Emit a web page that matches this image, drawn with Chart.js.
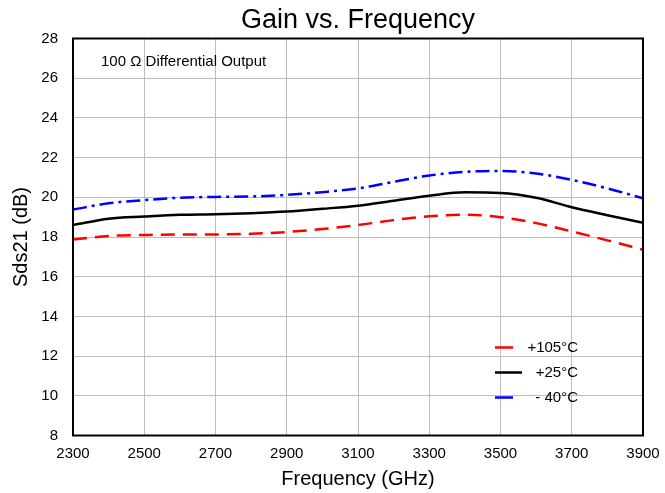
<!DOCTYPE html>
<html>
<head>
<meta charset="utf-8">
<script src="https://cdn.jsdelivr.net/npm/chart.js@4"></script>
<style>
  html, body { margin: 0; padding: 0; background: #fff; }
  #wrap { width: 665px; height: 493px; }
</style>
</head>
<body>
<div id="wrap"><canvas id="gainChart"></canvas></div>
<script>
const freqs = [2300, 2400, 2500, 2600, 2700, 2800, 2900, 3000, 3100, 3200, 3300, 3400, 3500, 3600, 3700, 3800, 3900];
const gainHot = [17.87, 18.05, 18.1, 18.13, 18.13, 18.16, 18.25, 18.4, 18.6, 18.85, 19.04, 19.12, 19.0, 18.7, 18.28, 17.83, 17.36];
const gainRoom = [18.6, 18.92, 19.03, 19.12, 19.15, 19.2, 19.28, 19.42, 19.58, 19.83, 20.08, 20.25, 20.22, 19.98, 19.5, 19.1, 18.72];
const gainCold = [19.38, 19.7, 19.86, 19.98, 20.02, 20.04, 20.12, 20.26, 20.45, 20.78, 21.1, 21.28, 21.33, 21.2, 20.88, 20.45, 19.95];
const seriesLabels = ['+105°C', '+25°C', '- 40°C'];
const xTicks = [2300, 2500, 2700, 2900, 3100, 3300, 3500, 3700, 3900];
const noteText = '100 Ω Differential Output';

const FONT = "'Liberation Sans', Arial, sans-serif";
const toPts = (ys) => freqs.map((f, i) => ({ x: f, y: ys[i] }));

// black frame around the plot area + the note in the top-left corner
const frameAndNote = {
  id: 'frameAndNote',
  afterDatasetsDraw(chart) {
    const { ctx, chartArea: a } = chart;
    ctx.save();
    ctx.strokeStyle = '#000';
    ctx.lineWidth = 2;
    ctx.strokeRect(a.left, a.top, a.right - a.left, a.bottom - a.top);
    ctx.fillStyle = '#000';
    ctx.font = '15px ' + FONT;
    ctx.textBaseline = 'middle';
    ctx.fillText(noteText, a.left + 28, a.top + 23);
    ctx.restore();
  }
};

// legend drawn inside the plot, lower right
const insideLegend = {
  id: 'insideLegend',
  afterDraw(chart) {
    const { ctx, chartArea: a } = chart;
    const lineLens = [18, 27, 18];
    ctx.save();
    ctx.font = '15px ' + FONT;
    ctx.textBaseline = 'middle';
    ctx.textAlign = 'right';
    chart.data.datasets.forEach((ds, i) => {
      const y = a.bottom - 88 + i * 25;
      ctx.strokeStyle = ds.borderColor;
      ctx.lineWidth = 2.5;
      ctx.setLineDash([]);
      ctx.beginPath();
      ctx.moveTo(a.right - 148, y);
      ctx.lineTo(a.right - 148 + lineLens[i], y);
      ctx.stroke();
      ctx.fillStyle = '#000';
      ctx.fillText(ds.label, a.right - 65, y);
    });
    ctx.restore();
  }
};

new Chart(document.getElementById('gainChart'), {
  type: 'line',
  data: {
    datasets: [
      { label: seriesLabels[0], data: toPts(gainHot), borderColor: '#ff0000', borderDash: [14, 8] },
      { label: seriesLabels[1], data: toPts(gainRoom), borderColor: '#000000' },
      { label: seriesLabels[2], data: toPts(gainCold), borderColor: '#0000ff', borderDash: [14, 5, 3, 5] }
    ]
  },
  options: {
    responsive: true,
    maintainAspectRatio: false,
    animation: false,
    layout: { padding: { left: 0, right: 22, top: 0, bottom: 0 } },
    elements: {
      line: { borderWidth: 2.5, cubicInterpolationMode: 'monotone', fill: false },
      point: { radius: 0 }
    },
    plugins: {
      legend: { display: false },
      tooltip: { enabled: false },
      title: {
        display: true,
        fullSize: false,
        text: 'Gain vs. Frequency',
        color: '#000',
        font: { family: FONT, size: 27, weight: 'normal' },
        padding: { top: 4, bottom: 2.1 }
      }
    },
    scales: {
      x: {
        type: 'linear',
        min: 2300,
        max: 3900,
        afterBuildTicks: (s) => { s.ticks = xTicks.map(v => ({ value: v })); },
        afterFit: (s) => { s.height = 57.5; s.paddingLeft = 0; s.paddingRight = 0; },
        grid: { color: '#bdbdbd', drawTicks: false },
        border: { display: false },
        ticks: { color: '#000', padding: 9, font: { family: FONT, size: 15 }, callback: (v) => String(v) },
        title: { display: true, text: 'Frequency (GHz)', color: '#000', font: { family: FONT, size: 20 }, padding: { top: 2, bottom: 2 } }
      },
      y: {
        min: 8,
        max: 28,
        afterFit: (s) => { s.width = 73; },
        grid: { color: '#bdbdbd', drawTicks: false },
        border: { display: false },
        ticks: { stepSize: 2, color: '#000', padding: 15, font: { family: FONT, size: 15 } },
        title: { display: true, text: 'Sds21 (dB)', color: '#000', font: { family: FONT, size: 20 }, padding: { top: 9, bottom: 0 } }
      }
    }
  },
  plugins: [frameAndNote, insideLegend]
});
</script>
</body>
</html>
